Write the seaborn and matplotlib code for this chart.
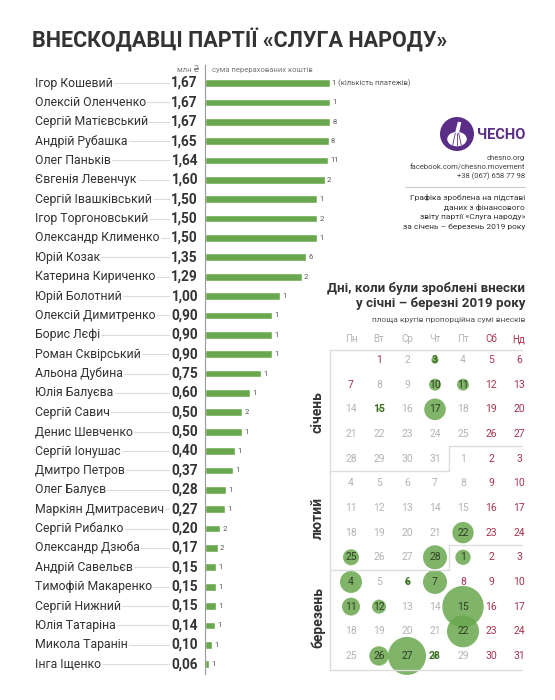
import numpy as np
import pandas as pd
import matplotlib
matplotlib.use('Agg')
import matplotlib.pyplot as plt
import seaborn as sns
from matplotlib.transforms import blended_transform_factory
from matplotlib.patches import Circle, Ellipse, Polygon
from matplotlib.lines import Line2D
import warnings

warnings.filterwarnings('ignore')

# --- дані: внескодавці ---
names = ['Ігор Кошевий', 'Олексій Оленченко', 'Сергій Матієвський', 'Андрій Рубашка',
         'Олег Паньків', 'Євгенія Левенчук', 'Сергій Івашківський', 'Ігор Торгоновський',
         'Олександр Клименко', 'Юрій Козак', 'Катерина Кириченко', 'Юрій Болотний',
         'Олексій Димитренко', 'Борис Лєфі', 'Роман Сквірський', 'Альона Дубина',
         'Юлія Балуєва', 'Сергій Савич', 'Денис Шевченко', 'Сергій Іонушас',
         'Дмитро Петров', 'Олег Балуєв', 'Маркіян Дмитрасевич', 'Сергій Рибалко',
         'Олександр Дзюба', 'Андрій Савельєв', 'Тимофій Макаренко', 'Сергій Нижний',
         'Юлія Татаріна', 'Микола Таранін', 'Інга Іщенко']
amounts = [1.67, 1.67, 1.67, 1.65, 1.64, 1.60, 1.50, 1.50, 1.50, 1.35, 1.29, 1.00,
           0.90, 0.90, 0.90, 0.75, 0.60, 0.50, 0.50, 0.40, 0.37, 0.28, 0.27, 0.20,
           0.17, 0.15, 0.15, 0.15, 0.14, 0.10, 0.06]
payments = [1, 1, 8, 8, 11, 2, 1, 2, 1, 6, 2, 1, 1, 1, 1, 1, 1, 2, 1, 1, 1, 1, 1, 2,
            2, 1, 1, 1, 1, 1, 1]

# --- дані: календар (сума внесків за день, млн грн, оцінка за площею кругів) ---
cal_days = ['2019-01-03', '2019-01-10', '2019-01-11', '2019-01-15', '2019-01-17',
            '2019-02-22', '2019-02-25', '2019-02-28', '2019-03-01', '2019-03-04',
            '2019-03-06', '2019-03-07', '2019-03-11', '2019-03-12', '2019-03-15',
            '2019-03-22', '2019-03-26', '2019-03-27', '2019-03-28']
cal_amounts = [0.16, 0.43, 0.43, 0.02, 1.40, 1.37, 0.77, 1.73, 0.70, 1.45,
               0.05, 1.73, 0.97, 0.59, 5.15, 3.07, 1.13, 4.33, 0.05]
holidays = ['2019-01-01', '2019-01-07', '2019-03-08']
weekdays = ['Пн', 'Вт', 'Ср', 'Чт', 'Пт', 'Сб', 'Нд']
months = ['січень', 'лютий', 'березень']

GREEN = '#6aa84f'
DARK = '#333333'
GREY = '#b4b4b4'
RED = '#a8324f'
PURPLE = '#5a2d86'

sns.set_theme(style='white')
plt.rcParams['font.family'] = ['Roboto', 'DejaVu Sans']

W, H = 555, 700
fig = plt.figure(figsize=(W / 100, H / 100), dpi=100)


def fx(x):
    return x / W


def fy(y):
    return 1 - y / H


def px_axes(left, top, right, bottom):
    return fig.add_axes([left / W, 1 - bottom / H, (right - left) / W, (bottom - top) / H])


fig.text(fx(32), fy(41), 'ВНЕСКОДАВЦІ ПАРТІЇ «СЛУГА НАРОДУ»', fontsize=15.5,
         fontweight='bold', color=DARK, ha='left', va='center')

# --- стовпчики ---
bars = pd.DataFrame({'name': names, 'amount': amounts, 'payments': payments})
ax = px_axes(205, 65, 205 + 2.0 * 74.85, 673.8)
sns.barplot(data=bars, x='amount', y='name', orient='h', color=GREEN, width=0.4,
            saturation=1, ax=ax)
ax.set_xlim(0, 2.0)
ax.set_ylim(30.5, -0.93)
ax.set_xticks([])
ax.set_yticks([])
ax.set_xlabel('')
ax.set_ylabel('')
ax.patch.set_alpha(0)
for s in ['top', 'right', 'bottom']:
    ax.spines[s].set_visible(False)
ax.spines['left'].set_color('#9a9a9a')
ax.spines['left'].set_linewidth(0.8)

trans = blended_transform_factory(fig.transFigure, ax.transData)
for i, row in bars.iterrows():
    ax.plot([fx(40), fx(190)], [i, i], transform=trans, color='#dcdcdc', lw=0.8,
            clip_on=False, zorder=1)
    ax.text(fx(35), i, row['name'], transform=trans, ha='left', va='center',
            fontsize=8.8, color=DARK, zorder=3,
            bbox=dict(fc='white', ec='none', pad=1.0))
    ax.text(fx(198), i, f"{row['amount']:.2f}".replace('.', ','), transform=trans,
            ha='right', va='center', fontsize=9.8, fontweight='bold', color=DARK,
            zorder=3, bbox=dict(fc='white', ec='none', pad=1.0))
    label = str(row['payments']) + (' (кількість платежів)' if i == 0 else '')
    ax.text(row['amount'] + 0.03, i, label, ha='left', va='center', fontsize=5.5,
            color='#555555', clip_on=False)

fig.text(fx(199), fy(70), 'млн ₴', ha='right', va='center', fontsize=5.5, color='#777777')
fig.text(fx(212), fy(70), 'сума перерахованих коштів', ha='left', va='center',
         fontsize=5.5, color='#777777')

# --- логотип та примітки ---
lax = px_axes(440, 117, 474, 151)
lax.set_xlim(-1, 1)
lax.set_ylim(-1, 1)
lax.axis('off')
lax.add_patch(Circle((0, 0), 1, fc=PURPLE, ec='none'))
lax.add_patch(Ellipse((0, -0.3), 1.15, 0.85, fc='white', ec='none'))
lax.add_patch(Polygon([[-0.12, 0.05], [0.05, 0.72], [0.25, 0.7], [0.12, 0.05]],
                      fc='white', ec='none'))
for xs in [-0.25, 0.0, 0.25]:
    lax.plot([xs * 0.4, xs], [0.05, -0.65], color=PURPLE, lw=0.6)
fig.text(fx(477), fy(135), 'ЧЕСНО', ha='left', va='center', fontsize=10.5,
         fontweight='bold', color=PURPLE)

for y, t in zip([158, 167, 176], ['chesno.org', 'facebook.com/chesno.movement',
                                  '+38 (067) 658 77 98']):
    fig.text(fx(525), fy(y), t, ha='right', va='center', fontsize=5.5, color='#444444')
fig.add_artist(Line2D([fx(405), fx(525)], [fy(187), fy(187)], color='#cccccc', lw=0.8))
notes = ['Графіка зроблена на підставі', 'даних з фінансового',
         'звіту партії «Слуга народу»', 'за січень – березень 2019 року']
for k, t in enumerate(notes):
    fig.text(fx(525), fy(197 + 10 * k), t, ha='right', va='center', fontsize=6, color=DARK)

# --- календар ---
fig.text(fx(525), fy(288), 'Дні, коли були зроблені внески', ha='right', va='center',
         fontsize=9.6, fontweight='bold', color=DARK)
fig.text(fx(525), fy(303), 'у січні – березні 2019 року', ha='right', va='center',
         fontsize=9.6, fontweight='bold', color=DARK)
fig.text(fx(525), fy(320), 'площа кругів пропорційна сумі внесків', ha='right',
         va='center', fontsize=6, color='#555555')

cal = pd.DataFrame({'date': pd.date_range('2019-01-01', '2019-03-31')})
cal['col'] = cal['date'].dt.weekday
cal['row'] = cal['date'].dt.dayofyear // 7  # 1 січня 2019 — вівторок
cal['amount'] = cal['date'].map(dict(zip(pd.to_datetime(cal_days), cal_amounts))).fillna(0)
cal['holiday'] = cal['date'].isin(pd.to_datetime(holidays)) | (cal['col'] >= 5)

cax = px_axes(330, 350, 522, 670)
dots = cal[cal['amount'] > 0]
amax = max(cal_amounts)
sns.scatterplot(data=dots, x='col', y='row', size='amount', sizes=(0, 172.8 * amax),
                size_norm=(0, amax), color=GREEN, alpha=0.85, linewidth=0,
                legend=False, ax=cax)
for c in cax.collections:
    c.set_clip_on(False)
cax.set_xlim(-0.75, 6.107)
cax.set_ylim(12.57, -0.405)
cax.set_xticks([])
cax.set_yticks([])
cax.set_xlabel('')
cax.set_ylabel('')
cax.patch.set_alpha(0)
cax.spines['right'].set_visible(False)
for s in ['top', 'left', 'bottom']:
    cax.spines[s].set_color('#dddddd')
    cax.spines[s].set_linewidth(1)

for _, r in cal.iterrows():
    if r['amount'] > 0:
        color, weight = '#2f3f25', ('bold' if r['amount'] < 0.2 else 'normal')
        if r['amount'] < 0.2:
            color = '#3b6e22'
    else:
        color, weight = (RED if r['holiday'] else GREY), 'normal'
    cax.text(r['col'], r['row'], str(r['date'].day), ha='center', va='center',
             fontsize=7.5, color=color, fontweight=weight, zorder=4)

for c, wd in enumerate(weekdays):
    cax.text(c, -0.85, wd, ha='center', va='center', fontsize=7,
             color=RED if c >= 5 else GREY, clip_on=False)

for lo, hi in [(3.5, 4.5), (7.5, 8.5)]:
    cax.plot([-0.75, 3.5, 3.5, 6.107], [hi, hi, lo, lo], color='#dddddd', lw=1,
             clip_on=False)

for y, m in zip([412, 518, 617], months):
    fig.text(fx(318), fy(y), m, rotation=90, ha='center', va='center', fontsize=10,
             fontweight='bold', color=DARK)

fig.savefig('out.png', dpi=100)
